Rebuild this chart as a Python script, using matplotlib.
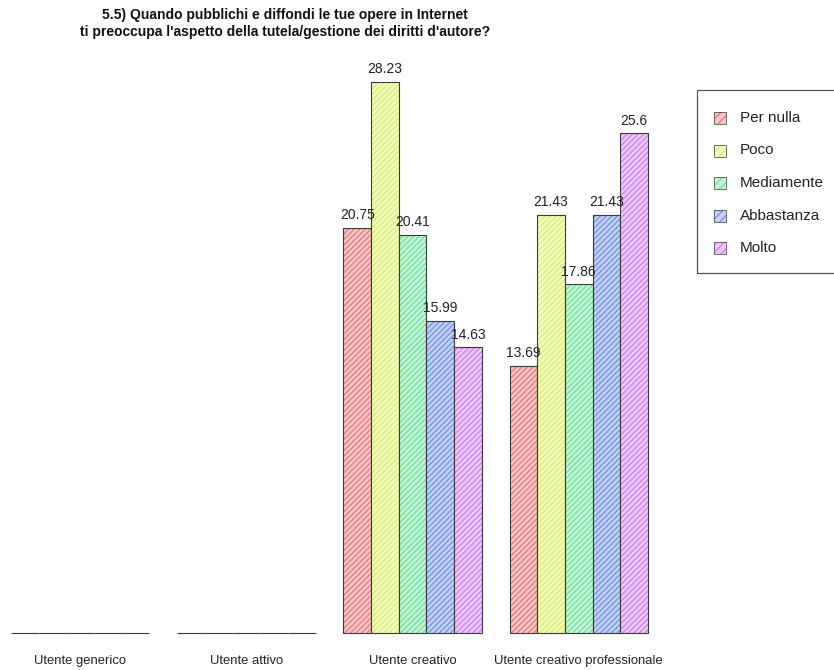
import matplotlib
matplotlib.use("Agg")
import matplotlib.pyplot as plt
from matplotlib.patches import Rectangle

plt.rcParams["font.family"] = ["Liberation Sans", "DejaVu Sans"]
plt.rcParams["hatch.linewidth"] = 0.8

# Data
groups = ["Utente generico", "Utente attivo", "Utente creativo",
          "Utente creativo professionale"]
answers = ["Per nulla", "Poco", "Mediamente", "Abbastanza", "Molto"]
values = {
    "Utente generico": [0, 0, 0, 0, 0],
    "Utente attivo": [0, 0, 0, 0, 0],
    "Utente creativo": [20.75, 28.23, 20.41, 15.99, 14.63],
    "Utente creativo professionale": [13.69, 21.43, 17.86, 21.43, 25.6],
}
title = ("5.5) Quando pubblichi e diffondi le tue opere in Internet\n"
         "ti preoccupa l'aspetto della tutela/gestione dei diritti d'autore?")

fill_colors = ["#F8C6C6", "#F3FBBE", "#C2F5D6", "#C3D0F5", "#EEC6FA"]
hatch_colors = ["#E27070", "#D6EC66", "#68DA96", "#6A8BE4", "#C47AEA"]
HATCH = "//////"

W, H = 834, 670
fig = plt.figure(figsize=(W / 100, H / 100), dpi=100)

# plot region in pixels
x0, x1 = 11, 648
y_base, y_top = 633, 82
ymax = max(max(v) for v in values.values())
ax = fig.add_axes([x0 / W, 1 - y_base / H, (x1 - x0) / W, (y_base - y_top) / H])
ax.set_xlim(1, 24)
ax.set_ylim(0, ymax)
ax.axis("off")

n = len(answers)
for g, grp in enumerate(groups):
    vals = values[grp]
    for i, v in enumerate(vals):
        left = 1 + g * (n + 1) + i
        ax.bar(left, v, width=1, align="edge", color=fill_colors[i],
               edgecolor=hatch_colors[i], linewidth=0, hatch=HATCH,
               clip_on=False)
        ax.bar(left, v, width=1, align="edge", fill=False,
               edgecolor="#3a3a3a", linewidth=0.8, clip_on=False)
        if v > 0:
            ax.annotate(f"{v:g}", (left + 0.5, v), xytext=(0, 4),
                        textcoords="offset points", ha="center", va="bottom",
                        fontsize=10, color="#222222")
    center = 1 + g * (n + 1) + n / 2
    ax.annotate(grp, (center, 0), xytext=(0, -20.5), textcoords="offset points",
                ha="center", va="center", fontsize=9.4, color="#222222")

fig.text(285 / W, 1 - 23.5 / H, title, ha="center", va="center",
         fontsize=10, fontweight="bold", linespacing=1.2, color="#111111")

# legend
fig.add_artist(Rectangle((697 / W, 1 - 273 / H), 160 / W, 183 / H,
                         transform=fig.transFigure, fill=False,
                         edgecolor="#555555", linewidth=0.9))
for i, lab in enumerate(answers):
    yc = 118 + i * 32.5
    sq = 12
    fig.add_artist(Rectangle((714 / W, 1 - (yc + sq / 2) / H), sq / W, sq / H,
                             transform=fig.transFigure, facecolor=fill_colors[i],
                             edgecolor=hatch_colors[i], linewidth=0, hatch="////"))
    fig.add_artist(Rectangle((714 / W, 1 - (yc + sq / 2) / H), sq / W, sq / H,
                             transform=fig.transFigure, fill=False,
                             edgecolor="#555555", linewidth=0.6))
    fig.text(740 / W, 1 - yc / H, lab, ha="left", va="center", fontsize=11,
             color="#222222")

fig.savefig("out.png", dpi=100, facecolor="white")
